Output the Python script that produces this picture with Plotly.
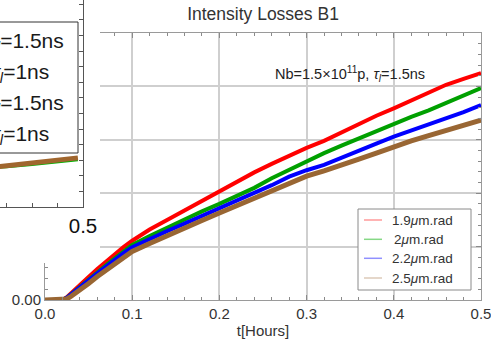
import plotly.graph_objects as go

W, H = 491, 339

# ---------------- data (main chart) ----------------
t_hours = [0.0, 0.01, 0.02, 0.025, 0.03, 0.04, 0.05, 0.06, 0.07, 0.08, 0.09, 0.10,
           0.12, 0.14, 0.16, 0.18, 0.20, 0.22, 0.24, 0.26, 0.28, 0.30,
           0.32, 0.34, 0.36, 0.38, 0.40, 0.42, 0.44, 0.46, 0.48, 0.50]

loss_19 = [0, 0, 0, 0.0005, 0.0013, 0.0027, 0.0043, 0.0058, 0.0072, 0.0086, 0.0099, 0.0111,
           0.0132, 0.0150, 0.0168, 0.0187, 0.0205, 0.0223, 0.0239, 0.0255, 0.0271, 0.0285,
           0.0298, 0.0314, 0.0329, 0.0345, 0.0359, 0.0374, 0.0389, 0.0403, 0.0414, 0.0425]
loss_20 = [0, 0, 0, 0.0004, 0.0011, 0.0024, 0.0038, 0.0052, 0.0065, 0.0078, 0.0091, 0.0103,
           0.0120, 0.0136, 0.0152, 0.0166, 0.0180, 0.0195, 0.0210, 0.0228, 0.0244, 0.0258,
           0.0275, 0.0289, 0.0303, 0.0316, 0.0331, 0.0343, 0.0355, 0.0369, 0.0382, 0.0397]
loss_22 = [0, 0, 0, 0.0004, 0.0011, 0.0024, 0.0037, 0.0050, 0.0063, 0.0075, 0.0088, 0.0099,
           0.0115, 0.0129, 0.0143, 0.0157, 0.0172, 0.0186, 0.0200, 0.0215, 0.0231, 0.0243,
           0.0253, 0.0267, 0.0281, 0.0293, 0.0306, 0.0317, 0.0329, 0.0340, 0.0352, 0.0365]
loss_25 = [0, 0, 0, 0.0002, 0.0007, 0.0018, 0.0031, 0.0044, 0.0056, 0.0068, 0.0080, 0.0091,
           0.0106, 0.0121, 0.0135, 0.0149, 0.0163, 0.0177, 0.0191, 0.0205, 0.0220, 0.0232,
           0.0242, 0.0254, 0.0264, 0.0275, 0.0287, 0.0298, 0.0308, 0.0317, 0.0327, 0.0337]

series_values = [loss_19, loss_20, loss_22, loss_25]
series_names = ["1.9<i>μ</i>m.rad", "2<i>μ</i>m.rad", "2.2<i>μ</i>m.rad", "2.5<i>μ</i>m.rad"]
series_colors = ["#ff0000", "#00a000", "#0000ff", "#996633"]
legend_colors = ["#ff9a9a", "#86d886", "#9090ff", "#dccab8"]
line_widths = [4, 4, 4, 5]

x_ticks_main = [0.0, 0.1, 0.2, 0.3, 0.4, 0.5]
y_ticks_main = [0.00, 0.01, 0.02, 0.03, 0.04, 0.05]

# ---------------- data (partly hidden chart on the left) ----------------
inset_t = [0.15, 0.20, 0.30, 0.40, 0.48]
inset_green = [0.0050, 0.0051, 0.0054, 0.0057, 0.0060]
inset_brown = [0.0051, 0.0053, 0.0057, 0.0060, 0.0063]
inset_labels = ["<i>τ<sub>l</sub></i>=1.5ns", "<i>τ<sub>l</sub></i>=1ns",
                "<i>τ<sub>l</sub></i>=1.5ns", "<i>τ<sub>l</sub></i>=1ns"]


def px(x):
    return x / W


def py(y):
    return 1 - y / H


FONT = "Liberation Sans, Arial, sans-serif"
fig = go.Figure()

# main series
for name, vals, col, lw in zip(series_names, series_values, series_colors, line_widths):
    fig.add_trace(go.Scatter(x=t_hours, y=vals, mode="lines", name=name, showlegend=False,
                             line=dict(color=col, width=lw), xaxis="x", yaxis="y",
                             hoverinfo="skip"))

# white cover subplot (the overlapping picture)
fig.add_trace(go.Scatter(x=[None], y=[None], xaxis="x2", yaxis="y2", showlegend=False))

# left partial chart
fig.add_trace(go.Scatter(x=inset_t, y=inset_green, mode="lines", showlegend=False,
                         line=dict(color="#00b000", width=2), xaxis="x3", yaxis="y3"))
fig.add_trace(go.Scatter(x=inset_t, y=inset_brown, mode="lines", showlegend=False,
                         line=dict(color="#a0662e", width=5), xaxis="x3", yaxis="y3"))

axis_common = dict(showline=True, linecolor="#9a9a9a", linewidth=1, mirror="ticks",
                   ticks="inside", ticklen=5, tickcolor="#8a8a8a", tickwidth=1,
                   showgrid=True, gridcolor="#cfcfcf", gridwidth=1.5, zeroline=False,
                   automargin=False, ticklabeloverflow="allow",
                   tickfont=dict(family=FONT, size=15, color="#333333"))

fig.update_layout(
    width=W, height=H,
    template="none",
    margin=dict(l=0, r=0, t=0, b=0, autoexpand=False),
    paper_bgcolor="white", plot_bgcolor="white",
    showlegend=False,
    title=dict(text="Intensity Losses B1", x=px(263), xanchor="center",
               y=py(14), yanchor="middle", yref="paper",
               font=dict(family=FONT, size=17.5, color="#333333")),
    xaxis=dict(domain=[px(45), px(481)], range=[0, 0.5], tickvals=x_ticks_main,
               tickformat=".1f", anchor="y",
               minor=dict(ticks="inside", dtick=0.02, tick0=0, ticklen=3,
                          tickcolor="#8a8a8a", showgrid=False),
               title=dict(text="t[Hours]", font=dict(family=FONT, size=15, color="#333333"),
                          standoff=8),
               **axis_common),
    yaxis=dict(domain=[py(300), py(33)], range=[0, 0.05], tickvals=y_ticks_main,
               tickformat=".2f", anchor="x",
               minor=dict(ticks="inside", dtick=0.002, tick0=0, ticklen=3,
                          tickcolor="#8a8a8a", showgrid=False),
               **axis_common),
    xaxis2=dict(domain=[0, px(100)], anchor="y2", visible=False, range=[0, 1],
                automargin=False),
    yaxis2=dict(domain=[py(263), 1], anchor="x2", visible=False, range=[0, 1],
                automargin=False),
    xaxis3=dict(domain=[0, px(83)], anchor="y3", range=[0.1745, 0.5],
                tickvals=[0.5], ticktext=["0.5"], ticks="inside", ticklen=5,
                tickcolor="#555555", showline=True, linecolor="#555555", linewidth=1,
                showgrid=False, zeroline=False, automargin=False,
                ticklabeloverflow="allow",
                minor=dict(ticks="inside", dtick=0.1, tick0=0, ticklen=4,
                           tickcolor="#555555", showgrid=False),
                tickfont=dict(family=FONT, size=20.5, color="#111111")),
    yaxis3=dict(domain=[py(207), 1], anchor="x3", side="right", range=[0, 0.02654],
                dtick=0.002, tick0=0, ticks="inside", ticklen=4, tickcolor="#555555",
                showticklabels=False, showline=True, linecolor="#555555", linewidth=1,
                showgrid=False, zeroline=False, automargin=False),
    hovermode=False,
)

# parameter annotation in the main chart
fig.add_annotation(text="Nb=1.5×10<sup>11</sup>p, <i>τ<sub>l</sub></i>=1.5ns",
                   x=px(350), y=py(74), xref="paper", yref="paper", showarrow=False,
                   xanchor="center", yanchor="middle",
                   font=dict(family=FONT, size=14.5, color="#222222"))

# legend of the main chart (box, faded line samples, labels)
fig.add_shape(type="rect", xref="paper", yref="paper", x0=px(358), x1=px(471),
              y0=py(290), y1=py(209), line=dict(color="#8a8a8a", width=1),
              fillcolor="white", layer="above")
leg_y = [220, 239.3, 258.3, 278]
leg_x = [390, 392, 390, 390]
for name, col, yy, xx in zip(series_names, legend_colors, leg_y, leg_x):
    fig.add_shape(type="line", xref="paper", yref="paper", x0=px(364), x1=px(382),
                  y0=py(yy), y1=py(yy), line=dict(color=col, width=1.5), layer="above")
    fig.add_annotation(text=name, x=px(xx), y=py(yy), xref="paper", yref="paper",
                       showarrow=False, xanchor="left", yanchor="middle",
                       font=dict(family=FONT, size=13.5, color="#333333"))

# legend box of the partly hidden chart
fig.add_shape(type="rect", xref="paper", yref="paper", x0=px(-10), x1=px(78),
              y0=py(153), y1=py(22), line=dict(color="#333333", width=1),
              fillcolor="white", layer="above")
row_y = [42, 73, 104, 135]
row_right = [66, 51, 66, 51]
for lab, yy, xr in zip(inset_labels, row_y, row_right):
    fig.add_annotation(text=lab, x=px(xr), y=py(yy), xref="paper", yref="paper",
                       showarrow=False, xanchor="right", yanchor="middle",
                       font=dict(family=FONT, size=21, color="#1a1a1a"))

fig.write_html("out.html")
